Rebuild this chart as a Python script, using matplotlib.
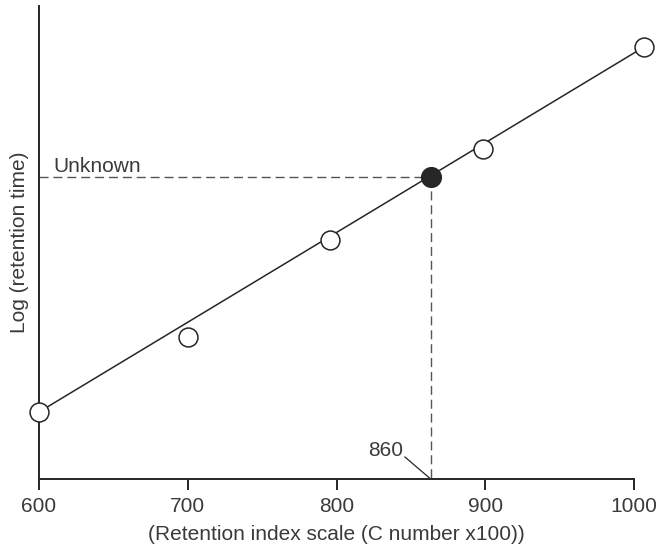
import matplotlib
matplotlib.use("Agg")
import matplotlib.pyplot as plt

plt.rcParams['font.family'] = ['Liberation Sans', 'DejaVu Sans']
plt.rcParams['lines.scale_dashes'] = False

# Data
std_x = [600, 700, 795.6, 898.5, 1006.7]
std_y = [0.67, 1.42, 2.39, 3.30, 4.32]
fit_x = [600, 1006.7]
fit_y = [0.67, 4.32]
unknown_x = 863.3
unknown_y = 3.017
xticks = [600, 700, 800, 900, 1000]
xticklabels = ["600", "700", "800", "900", "1000"]

W, H = 658, 550
fig = plt.figure(figsize=(W / 100, H / 100), dpi=100)
ax = fig.add_axes([39 / W, (H - 479) / H, (634 - 39) / W, (479 - 6) / H])

ax.set_xlim(600, 1000)
ax.set_ylim(0, 4.73)

dark = '#262626'
txt = '#3a3a3a'
fs = 15
ax.plot(fit_x, fit_y, color=dark, lw=1.1, clip_on=False, zorder=2)
ax.plot(std_x, std_y, 'o', ms=13.6, mfc='white', mec=dark, mew=1.1,
        clip_on=False, zorder=3)
ax.plot([unknown_x], [unknown_y], 'o', ms=14.2, mfc=dark, mec=dark, mew=1.0,
        clip_on=False, zorder=4)

dash_col = '#555555'
ax.plot([600, unknown_x], [unknown_y, unknown_y], color=dash_col, lw=1.0,
        dashes=(6.5, 3.5), zorder=1)
ax.plot([unknown_x, unknown_x], [unknown_y, 0], color=dash_col, lw=1.0,
        dashes=(6.5, 3.5), zorder=1)

ax.text(609.4, 3.07, "Unknown", fontsize=fs, color=txt,
        ha='left', va='baseline')
ax.text(844.7, 0.28, "860", fontsize=fs, color=txt,
        ha='right', va='center')
ax.plot([846, unknown_x], [0.22, 0], color=dark, lw=0.9, clip_on=False)

for s in ['top', 'right']:
    ax.spines[s].set_visible(False)
for s in ['left', 'bottom']:
    ax.spines[s].set_linewidth(1.4)
    ax.spines[s].set_color(dark)

ax.set_xticks(xticks)
ax.set_xticklabels(xticklabels)
ax.set_yticks([])
ax.tick_params(axis='x', direction='out', length=7.7, width=1.4,
               color=dark, pad=5, labelsize=fs, labelcolor=txt)

ax.set_xlabel("(Retention index scale (C number x100))", fontsize=fs,
              color=txt, labelpad=7)
ax.set_ylabel("Log (retention time)", fontsize=fs, color=txt,
              labelpad=7)

fig.savefig("out.png", dpi=100)
